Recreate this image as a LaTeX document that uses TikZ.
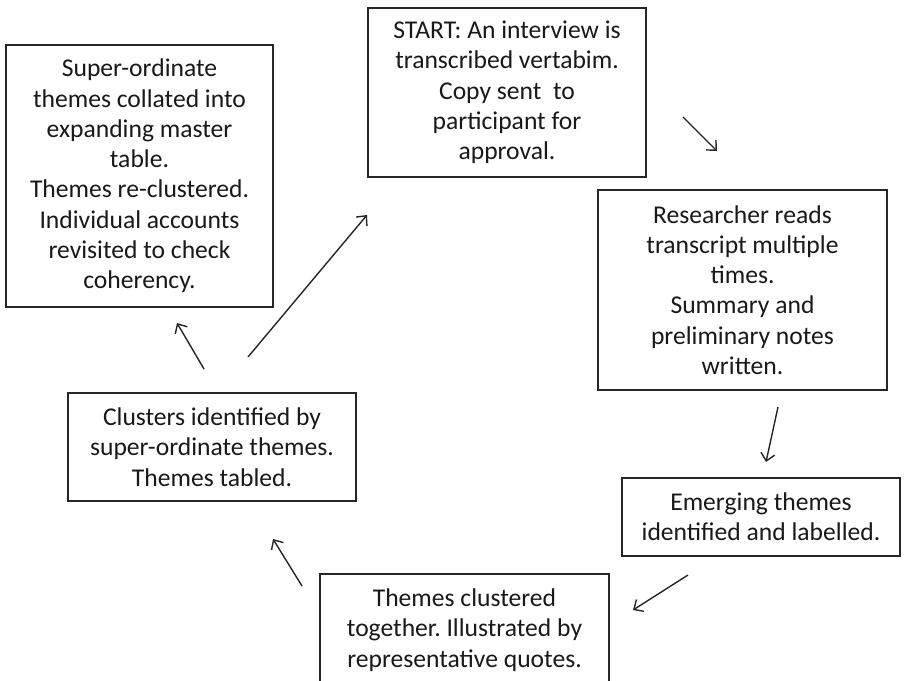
\documentclass[tikz,border=0pt]{standalone}
\usepackage{fontspec}
\setmainfont{Carlito}
\usetikzlibrary{arrows.meta}
\frenchspacing
\begin{document}
\begin{tikzpicture}[x=1pt,y=-1pt,
  boxstyle/.style={draw=black!85, line width=1.4pt, rectangle, inner sep=0pt, align=center,
    text=black!90, font=\fontsize{25.6}{30.3}\selectfont},
  flowarrow/.style={draw=black!85, line width=1.4pt, -{Straight Barb[length=7.5pt,width=14pt,line width=1.4pt]}}]
\useasboundingbox (0,0) rectangle (904,680);
\fill[white] (0,0) rectangle (904,680);
\node[boxstyle, minimum width=278pt, minimum height=169pt] (start) at (507,92.5)
  {START: An interview is\\transcribed vertabim.\\Copy sent \ to\\participant for\\approval.};
\node[boxstyle, minimum width=289pt, minimum height=200pt] (research) at (742.5,290)
  {Researcher reads\\transcript multiple\\times.\\Summary and\\preliminary notes\\written.};
\node[boxstyle, minimum width=278pt, minimum height=78pt] (emerge) at (761,517)
  {Emerging themes\\identified and labelled.};
\node[boxstyle, minimum width=289pt, minimum height=112pt] (themes) at (464.5,630)
  {Themes clustered\\together. Illustrated by\\representative quotes.};
\node[boxstyle, minimum width=288pt, minimum height=108pt] (clusters) at (212,447)
  {Clusters identified by\\super-ordinate themes.\\Themes tabled.};
\node[boxstyle, minimum width=267pt, minimum height=262pt] (super) at (139.5,176)
  {Super-ordinate\\themes collated into\\expanding master\\table.\\Themes re-clustered.\\Individual accounts\\revisited to check\\coherency.};
\coordinate (a1s) at (683,117);  \coordinate (a1e) at (717,151);
\coordinate (a2s) at (778,407);  \coordinate (a2e) at (766,462);
\coordinate (a3s) at (688,575);  \coordinate (a3e) at (633,610);
\coordinate (a4s) at (302,586);  \coordinate (a4e) at (273,539);
\coordinate (a5s) at (204,369);  \coordinate (a5e) at (177,323);
\coordinate (a6s) at (248,357);  \coordinate (a6e) at (367,215);
\draw[flowarrow] (a1s) -- (a1e);
\draw[flowarrow] (a2s) -- (a2e);
\draw[flowarrow] (a3s) -- (a3e);
\draw[flowarrow] (a4s) -- (a4e);
\draw[flowarrow] (a5s) -- (a5e);
\draw[flowarrow] (a6s) -- (a6e);
\end{tikzpicture}
\end{document}
